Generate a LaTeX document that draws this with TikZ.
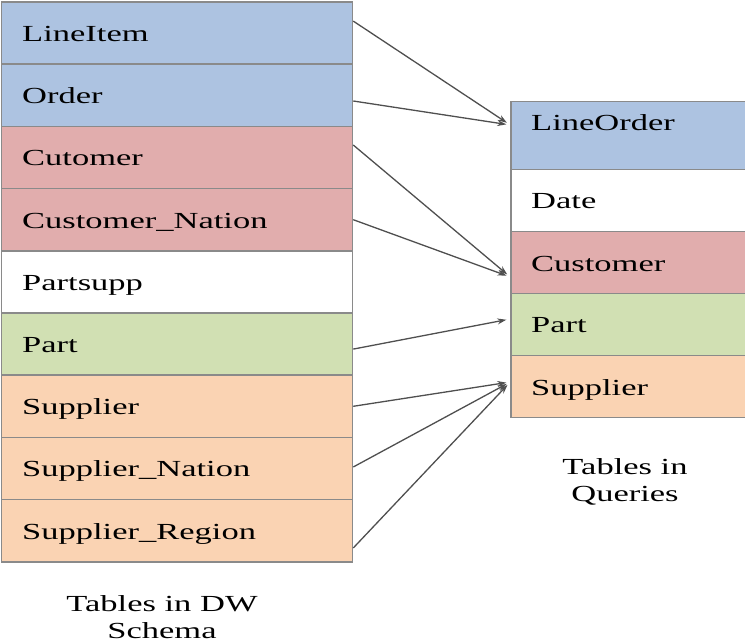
\documentclass[tikz,border=0pt]{standalone}
\usepackage{fontspec}
\usepackage{graphicx}
\setmainfont{Liberation Serif}
\usetikzlibrary{arrows.meta}

\definecolor{tblue}{HTML}{ADC3E1}
\definecolor{tred}{HTML}{E1ADAD}
\definecolor{tgreen}{HTML}{D1E0B3}
\definecolor{torange}{HTML}{FAD3B3}
\definecolor{tborder}{HTML}{8A8A8A}
\definecolor{tline}{HTML}{4F4F4F}

% wide type, stretched horizontally
\newcommand{\widetext}[1]{\scalebox{1.5}[1]{#1}}

\begin{document}
\begin{tikzpicture}[x=1pt,y=-1pt,
  tbl/.style={draw=tborder, line width=1.5pt, rectangle, inner sep=0pt,
    minimum width=351pt, minimum height=62.2pt},
  qtbl/.style={draw=tborder, line width=1.5pt, rectangle, inner sep=0pt,
    minimum width=250pt, minimum height=62pt},
  lbl/.style={anchor=base west, inner sep=0pt, font=\fontsize{23}{27}\selectfont},
  caption/.style={anchor=base, inner sep=0pt, align=center,
    font=\fontsize{23}{26.5}\selectfont},
  link/.style={draw=tline, line width=1.3pt, shorten >=4pt,
    -{Stealth[length=9pt,width=6pt]}}]

\clip (0,0) rectangle (745,644);

% ---- tables of the DW schema ----
\node[tbl, fill=tblue]   (li)  at (177,33.1)  {};
\node[tbl, fill=tblue]   (ord) at (177,95.3)  {};
\node[tbl, fill=tred]    (cu)  at (177,157.5) {};
\node[tbl, fill=tred]    (cn)  at (177,219.7) {};
\node[tbl, fill=white]   (ps)  at (177,281.9) {};
\node[tbl, fill=tgreen]  (pa)  at (177,344.1) {};
\node[tbl, fill=torange] (su)  at (177,406.3) {};
\node[tbl, fill=torange] (sn)  at (177,468.5) {};
\node[tbl, fill=torange] (sr)  at (177,530.7) {};

\node[lbl] (tli) at (22,41.6)  {\widetext{LineItem}};
\node[lbl] (tord) at (22,103.8) {\widetext{Order}};
\node[lbl] (tcu) at (22,166.0) {\widetext{Cutomer}};
\node[lbl] (tcn) at (22,228.2) {\widetext{Customer\_Nation}};
\node[lbl] (tps) at (22,290.4) {\widetext{Partsupp}};
\node[lbl] (tpa) at (22,352.6) {\widetext{Part}};
\node[lbl] (tsu) at (22,414.8) {\widetext{Supplier}};
\node[lbl] (tsn) at (22,477.0) {\widetext{Supplier\_Nation}};
\node[lbl] (tsr) at (22,539.2) {\widetext{Supplier\_Region}};

% ---- tables used in the queries ----
\node[qtbl, fill=tblue, minimum height=67.6pt] (qlo) at (636,135.5) {};
\node[qtbl, fill=white]   (qda) at (636,200.5) {};
\node[qtbl, fill=tred]    (qcu) at (636,262.5) {};
\node[qtbl, fill=tgreen]  (qpa) at (636,324.7) {};
\node[qtbl, fill=torange] (qsu) at (636,386.7) {};

\node[lbl] (tqlo) at (531,130.7) {\widetext{LineOrder}};
\node[lbl] (tqda) at (531,209.0) {\widetext{Date}};
\node[lbl] (tqcu) at (531,271.7) {\widetext{Customer}};
\node[lbl] (tqpa) at (531,333.0) {\widetext{Part}};
\node[lbl] (tqsu) at (531,395.7) {\widetext{Supplier}};

% ---- captions (anchored on the baseline of their last line) ----
\node[caption] (capq) at (625,501) {\widetext{Tables in}\\\widetext{Queries}};
\node[caption] (capd) at (162,638) {\widetext{Tables in DW}\\\widetext{Schema}};

% ---- mappings ----
\draw[link] ([yshift=12pt]li.east)  -- ([yshift=10.5pt]qlo.west);
\draw[link] ([yshift=-5.7pt]ord.east) -- ([yshift=10.5pt]qlo.west);
\draw[link] ([yshift=12.5pt]cu.east) -- ([yshift=-14.5pt]qcu.west);
\draw[link] (cn.east) -- ([yshift=-14.5pt]qcu.west);
\draw[link] ([yshift=-5pt]pa.east) -- ([yshift=5.7pt]qpa.west);
\draw[link] (su.east) -- ([yshift=4.7pt]qsu.west);
\draw[link] ([yshift=1.5pt]sn.east) -- ([yshift=4.7pt]qsu.west);
\draw[link] ([yshift=-17.3pt]sr.east) -- ([yshift=4.7pt]qsu.west);
\end{tikzpicture}
\end{document}
